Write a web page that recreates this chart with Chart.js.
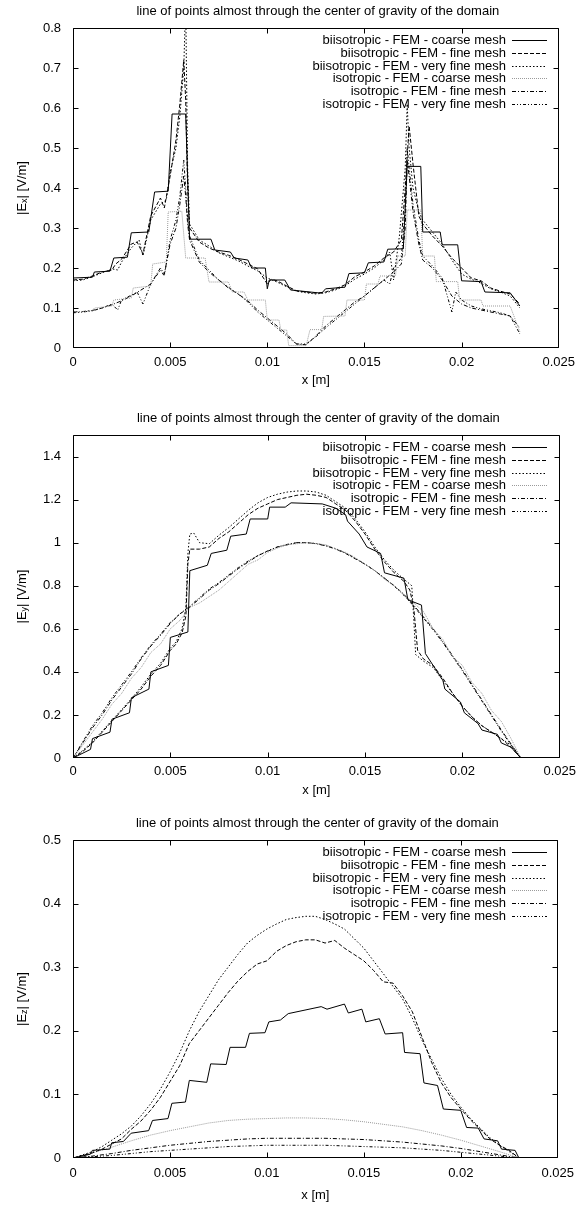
<!DOCTYPE html>
<html><head><meta charset="utf-8">
<script src="https://cdn.jsdelivr.net/npm/chart.js@4.4.1/dist/chart.umd.min.js"></script>
<style>
html,body{margin:0;padding:0;background:#fff;}
body{width:582px;height:1206px;position:relative;overflow:hidden;}
canvas{position:absolute;left:0;}
</style></head><body>
<canvas id="c1" width="582" height="402" style="top:0px;width:582px;height:402px"></canvas>
<canvas id="c2" width="582" height="402" style="top:404px;width:582px;height:402px"></canvas>
<canvas id="c3" width="582" height="400" style="top:806px;width:582px;height:400px"></canvas>
<script>
const LABELS = ['biisotropic - FEM - coarse mesh','biisotropic - FEM - fine mesh','biisotropic - FEM - very fine mesh','isotropic - FEM - coarse mesh','isotropic - FEM - fine mesh','isotropic - FEM - very fine mesh'];
const TITLE = 'line of points almost through the center of gravity of the domain';
const X_TITLE = 'x [m]';
const X_TICKS = [0,0.005,0.01,0.015,0.02,0.025];
const EX_Y_TICKS = [0,0.1,0.2,0.3,0.4,0.5,0.6,0.7,0.8];
const EY_Y_TICKS = [0,0.2,0.4,0.6,0.8,1,1.2,1.4];
const EZ_Y_TICKS = [0,0.1,0.2,0.3,0.4,0.5];

// ---------- |Ex| ----------
const exBiCoarse = [[0,0.175],[0.001,0.177],[0.0011,0.19],[0.0019,0.192],[0.0021,0.225],[0.0028,0.227],[0.003,0.288],[0.0039,0.29],[0.0042,0.39],[0.0049,0.392],[0.0051,0.585],[0.0058,0.585],[0.006,0.272],[0.0071,0.272],[0.0073,0.245],[0.0081,0.24],[0.0083,0.225],[0.009,0.22],[0.0092,0.2],[0.0099,0.2],[0.01,0.148],[0.0101,0.17],[0.0109,0.17],[0.0112,0.145],[0.0128,0.137],[0.013,0.148],[0.014,0.152],[0.0142,0.186],[0.015,0.188],[0.0152,0.213],[0.016,0.215],[0.0162,0.247],[0.017,0.248],[0.0172,0.454],[0.0179,0.454],[0.018,0.29],[0.0189,0.29],[0.019,0.258],[0.0198,0.258],[0.02,0.168],[0.021,0.166],[0.0212,0.14],[0.0225,0.138],[0.023,0.105]];
const exBiFine = [[0,0.17],[0.0005,0.172],[0.001,0.18],[0.0015,0.19],[0.002,0.195],[0.0022,0.21],[0.0025,0.222],[0.003,0.26],[0.0033,0.265],[0.0036,0.235],[0.004,0.33],[0.0045,0.375],[0.0047,0.35],[0.005,0.43],[0.0053,0.52],[0.0055,0.61],[0.0057,0.72],[0.0058,0.62],[0.0059,0.4],[0.006,0.3],[0.0065,0.265],[0.007,0.25],[0.0075,0.24],[0.008,0.232],[0.0085,0.222],[0.009,0.21],[0.0095,0.198],[0.01,0.16],[0.0102,0.172],[0.0105,0.168],[0.011,0.155],[0.0115,0.143],[0.012,0.14],[0.0125,0.137],[0.013,0.14],[0.0135,0.148],[0.014,0.158],[0.0145,0.178],[0.015,0.19],[0.0155,0.205],[0.016,0.225],[0.0165,0.24],[0.0169,0.27],[0.0171,0.4],[0.0173,0.555],[0.0175,0.46],[0.0178,0.33],[0.018,0.31],[0.0185,0.28],[0.019,0.255],[0.0195,0.225],[0.02,0.2],[0.0205,0.175],[0.021,0.168],[0.0215,0.15],[0.022,0.142],[0.0225,0.135],[0.023,0.11]];
const exBiVFine = [[0,0.168],[0.0005,0.17],[0.001,0.178],[0.0015,0.188],[0.002,0.198],[0.0023,0.195],[0.0025,0.215],[0.003,0.25],[0.0034,0.27],[0.0036,0.23],[0.004,0.32],[0.0045,0.36],[0.0048,0.37],[0.005,0.44],[0.0053,0.5],[0.0055,0.58],[0.0057,0.7],[0.0058,0.86],[0.0059,0.45],[0.006,0.31],[0.0065,0.27],[0.007,0.255],[0.0075,0.238],[0.008,0.228],[0.0085,0.218],[0.009,0.205],[0.0095,0.193],[0.01,0.175],[0.0105,0.165],[0.011,0.153],[0.0115,0.142],[0.012,0.138],[0.0125,0.135],[0.013,0.138],[0.0135,0.145],[0.014,0.155],[0.0145,0.172],[0.015,0.185],[0.0155,0.2],[0.016,0.22],[0.0163,0.24],[0.0165,0.17],[0.0168,0.28],[0.0171,0.45],[0.0172,0.61],[0.0173,0.5],[0.0175,0.4],[0.0178,0.34],[0.018,0.32],[0.0185,0.29],[0.019,0.26],[0.0195,0.22],[0.02,0.185],[0.0205,0.172],[0.021,0.162],[0.0215,0.148],[0.022,0.14],[0.0225,0.13],[0.023,0.1]];
const exIsoCoarse = [[0,0.09],[0.001,0.093],[0.0011,0.1],[0.002,0.105],[0.0021,0.12],[0.003,0.125],[0.0031,0.15],[0.004,0.155],[0.0041,0.21],[0.0048,0.215],[0.0049,0.34],[0.0056,0.342],[0.0058,0.225],[0.0068,0.225],[0.007,0.165],[0.008,0.165],[0.0082,0.14],[0.0088,0.14],[0.009,0.12],[0.0099,0.12],[0.01,0.07],[0.0106,0.07],[0.0107,0.045],[0.011,0.045],[0.0111,0.006],[0.012,0.006],[0.0122,0.046],[0.0128,0.046],[0.0129,0.079],[0.014,0.08],[0.0141,0.12],[0.015,0.12],[0.0151,0.16],[0.0157,0.16],[0.0158,0.18],[0.0166,0.18],[0.0167,0.23],[0.0171,0.23],[0.0172,0.345],[0.0179,0.345],[0.018,0.23],[0.0186,0.23],[0.0187,0.166],[0.0198,0.166],[0.0199,0.12],[0.021,0.12],[0.0211,0.105],[0.0225,0.105],[0.023,0.04]];
const exIsoFine = [[0,0.09],[0.0005,0.091],[0.001,0.094],[0.0015,0.1],[0.002,0.108],[0.0025,0.118],[0.003,0.13],[0.0035,0.145],[0.004,0.16],[0.0045,0.2],[0.0047,0.185],[0.005,0.26],[0.0053,0.3],[0.0055,0.36],[0.0057,0.43],[0.0058,0.38],[0.0059,0.31],[0.006,0.27],[0.0065,0.215],[0.007,0.19],[0.0075,0.17],[0.008,0.15],[0.0085,0.135],[0.009,0.118],[0.0095,0.095],[0.01,0.075],[0.0105,0.055],[0.011,0.035],[0.0115,0.01],[0.012,0.008],[0.0125,0.03],[0.013,0.055],[0.0135,0.075],[0.014,0.095],[0.0145,0.115],[0.015,0.13],[0.0155,0.15],[0.016,0.17],[0.0165,0.19],[0.0169,0.21],[0.0171,0.3],[0.0172,0.47],[0.0173,0.43],[0.0175,0.34],[0.0178,0.26],[0.018,0.22],[0.0185,0.2],[0.019,0.17],[0.0195,0.13],[0.02,0.11],[0.0205,0.1],[0.021,0.095],[0.0215,0.09],[0.022,0.085],[0.0225,0.08],[0.023,0.05]];
const exIsoVFine = [[0,0.088],[0.0005,0.09],[0.001,0.093],[0.0015,0.1],[0.002,0.11],[0.0023,0.095],[0.0025,0.12],[0.003,0.132],[0.0033,0.14],[0.0036,0.11],[0.004,0.16],[0.0045,0.195],[0.0047,0.18],[0.005,0.27],[0.0053,0.32],[0.0055,0.38],[0.0057,0.47],[0.0058,0.4],[0.0059,0.32],[0.006,0.28],[0.0065,0.22],[0.007,0.195],[0.0075,0.17],[0.008,0.152],[0.0085,0.135],[0.009,0.115],[0.0095,0.09],[0.01,0.07],[0.0105,0.05],[0.011,0.03],[0.0115,0.01],[0.012,0.01],[0.0125,0.028],[0.013,0.05],[0.0135,0.07],[0.014,0.09],[0.0145,0.11],[0.015,0.13],[0.0155,0.15],[0.016,0.17],[0.0163,0.16],[0.0165,0.2],[0.0169,0.225],[0.0171,0.35],[0.0172,0.5],[0.0173,0.45],[0.0175,0.36],[0.0178,0.27],[0.018,0.23],[0.0185,0.205],[0.019,0.175],[0.0195,0.09],[0.0197,0.14],[0.02,0.12],[0.0205,0.105],[0.021,0.098],[0.0215,0.093],[0.022,0.088],[0.0225,0.08],[0.023,0.035]];

// ---------- |Ey| ----------
const eyBiCoarse = [[0,0],[0.0009,0.04],[0.001,0.09],[0.0019,0.12],[0.002,0.18],[0.0029,0.21],[0.003,0.28],[0.0039,0.32],[0.004,0.4],[0.0049,0.43],[0.005,0.56],[0.0059,0.585],[0.006,0.87],[0.0069,0.895],[0.0071,0.95],[0.0079,0.965],[0.0081,1.03],[0.0089,1.04],[0.0091,1.11],[0.01,1.11],[0.0101,1.165],[0.0109,1.165],[0.0112,1.185],[0.0128,1.18],[0.0135,1.16],[0.014,1.13],[0.0141,1.1],[0.0147,1.04],[0.0151,0.98],[0.0158,0.95],[0.016,0.86],[0.017,0.835],[0.0172,0.735],[0.0179,0.71],[0.0181,0.485],[0.019,0.36],[0.0191,0.32],[0.0199,0.26],[0.0201,0.21],[0.0208,0.16],[0.021,0.13],[0.0218,0.11],[0.022,0.07],[0.0225,0.05],[0.023,0]];
const eyBiFine = [[0,0],[0.0005,0.03],[0.001,0.07],[0.0015,0.12],[0.002,0.17],[0.0025,0.22],[0.003,0.27],[0.0035,0.32],[0.004,0.38],[0.0045,0.43],[0.005,0.5],[0.0053,0.53],[0.0056,0.58],[0.0058,0.66],[0.0059,0.9],[0.006,0.97],[0.0065,0.97],[0.007,0.98],[0.0075,1.02],[0.008,1.05],[0.0085,1.09],[0.009,1.13],[0.0095,1.16],[0.01,1.18],[0.0105,1.2],[0.011,1.21],[0.0115,1.22],[0.012,1.225],[0.0125,1.22],[0.013,1.21],[0.0135,1.18],[0.014,1.15],[0.0145,1.1],[0.015,1.04],[0.0155,0.97],[0.016,0.91],[0.0165,0.86],[0.017,0.82],[0.0173,0.78],[0.0175,0.7],[0.0177,0.5],[0.018,0.46],[0.0185,0.43],[0.019,0.37],[0.0195,0.3],[0.02,0.24],[0.0205,0.19],[0.021,0.15],[0.0215,0.12],[0.022,0.09],[0.0225,0.05],[0.023,0]];
const eyBiVFine = [[0,0],[0.0005,0.035],[0.001,0.075],[0.0015,0.125],[0.002,0.175],[0.0025,0.225],[0.003,0.275],[0.0035,0.33],[0.004,0.39],[0.0045,0.44],[0.005,0.51],[0.0053,0.54],[0.0056,0.6],[0.0058,0.7],[0.0059,0.95],[0.006,1.04],[0.0062,1.045],[0.0065,1.0],[0.007,0.995],[0.0075,1.035],[0.008,1.07],[0.0085,1.11],[0.009,1.15],[0.0095,1.185],[0.01,1.21],[0.0105,1.225],[0.011,1.235],[0.0115,1.24],[0.012,1.24],[0.0125,1.235],[0.013,1.22],[0.0135,1.19],[0.014,1.16],[0.0145,1.11],[0.015,1.05],[0.0155,0.98],[0.016,0.92],[0.0165,0.87],[0.017,0.83],[0.0174,0.8],[0.0175,0.65],[0.0176,0.48],[0.018,0.45],[0.0185,0.42],[0.019,0.36],[0.0195,0.3],[0.02,0.24],[0.0205,0.19],[0.021,0.15],[0.0215,0.12],[0.022,0.09],[0.0225,0.06],[0.023,0]];
const eyIsoCoarse = [[0,0],[0.001,0.12],[0.0015,0.18],[0.002,0.25],[0.0025,0.3],[0.003,0.37],[0.0035,0.42],[0.004,0.49],[0.0045,0.53],[0.005,0.6],[0.0055,0.64],[0.006,0.7],[0.0065,0.72],[0.007,0.75],[0.0075,0.78],[0.008,0.82],[0.0085,0.86],[0.009,0.9],[0.0095,0.92],[0.01,0.955],[0.0105,0.975],[0.011,0.99],[0.0115,0.995],[0.012,1.0],[0.0125,0.995],[0.013,0.99],[0.0135,0.97],[0.014,0.955],[0.0145,0.93],[0.015,0.9],[0.0155,0.87],[0.016,0.83],[0.0165,0.8],[0.017,0.76],[0.0175,0.72],[0.018,0.68],[0.0185,0.6],[0.019,0.55],[0.0195,0.47],[0.02,0.43],[0.0205,0.35],[0.021,0.3],[0.0215,0.22],[0.022,0.17],[0.0225,0.09],[0.023,0]];
const eyIsoFine = [[0,0],[0.0005,0.07],[0.001,0.14],[0.0015,0.2],[0.002,0.27],[0.0025,0.33],[0.003,0.39],[0.0035,0.46],[0.004,0.52],[0.0045,0.57],[0.005,0.625],[0.0055,0.67],[0.006,0.7],[0.0065,0.74],[0.007,0.78],[0.0075,0.81],[0.008,0.845],[0.0085,0.88],[0.009,0.91],[0.0095,0.94],[0.01,0.96],[0.0105,0.98],[0.011,0.99],[0.0115,1.0],[0.012,1.0],[0.0125,0.995],[0.013,0.985],[0.0135,0.97],[0.014,0.95],[0.0145,0.925],[0.015,0.9],[0.0155,0.87],[0.016,0.835],[0.0165,0.8],[0.017,0.76],[0.0175,0.71],[0.018,0.655],[0.0185,0.6],[0.019,0.54],[0.0195,0.475],[0.02,0.41],[0.0205,0.34],[0.021,0.27],[0.0215,0.2],[0.022,0.13],[0.0225,0.065],[0.023,0]];
const eyIsoVFine = [[0,0],[0.0005,0.075],[0.001,0.15],[0.0015,0.21],[0.002,0.28],[0.0025,0.34],[0.003,0.4],[0.0035,0.465],[0.004,0.525],[0.0045,0.575],[0.005,0.63],[0.0055,0.67],[0.006,0.705],[0.0065,0.745],[0.007,0.785],[0.0075,0.815],[0.008,0.85],[0.0085,0.885],[0.009,0.915],[0.0095,0.94],[0.01,0.962],[0.0105,0.98],[0.011,0.992],[0.0115,1.0],[0.012,1.0],[0.0125,0.996],[0.013,0.986],[0.0135,0.972],[0.014,0.952],[0.0145,0.928],[0.015,0.9],[0.0155,0.87],[0.016,0.835],[0.0165,0.798],[0.017,0.755],[0.0175,0.705],[0.018,0.65],[0.0185,0.595],[0.019,0.535],[0.0195,0.47],[0.02,0.405],[0.0205,0.335],[0.021,0.265],[0.0215,0.195],[0.022,0.125],[0.0225,0.06],[0.023,0]];

// ---------- |Ez| ----------
const ezBiCoarse = [[0,0],[0.0009,0.006],[0.001,0.012],[0.0019,0.014],[0.002,0.024],[0.0026,0.026],[0.003,0.039],[0.0039,0.043],[0.0041,0.059],[0.0049,0.062],[0.0051,0.086],[0.0058,0.088],[0.006,0.122],[0.0069,0.119],[0.0071,0.148],[0.0079,0.147],[0.0081,0.174],[0.0089,0.174],[0.0091,0.196],[0.0099,0.197],[0.0101,0.214],[0.0107,0.217],[0.0111,0.227],[0.0128,0.238],[0.0131,0.234],[0.014,0.242],[0.0142,0.228],[0.0149,0.234],[0.0151,0.214],[0.0158,0.219],[0.0161,0.195],[0.017,0.197],[0.0171,0.166],[0.0179,0.164],[0.0181,0.118],[0.0188,0.114],[0.0191,0.077],[0.02,0.075],[0.0203,0.048],[0.0209,0.047],[0.0212,0.03],[0.0219,0.027],[0.0221,0.014],[0.0228,0.012],[0.023,0]];
const ezBiFine = [[0,0],[0.001,0.008],[0.0015,0.014],[0.002,0.022],[0.0025,0.03],[0.003,0.045],[0.0035,0.058],[0.004,0.075],[0.0045,0.095],[0.005,0.12],[0.0055,0.145],[0.006,0.18],[0.0065,0.2],[0.007,0.22],[0.0075,0.24],[0.008,0.26],[0.0085,0.278],[0.009,0.293],[0.0095,0.305],[0.01,0.31],[0.0105,0.325],[0.011,0.334],[0.0115,0.34],[0.012,0.343],[0.0125,0.343],[0.013,0.338],[0.0135,0.342],[0.014,0.33],[0.0145,0.32],[0.015,0.31],[0.0155,0.295],[0.016,0.277],[0.0165,0.275],[0.017,0.255],[0.0175,0.23],[0.018,0.19],[0.0185,0.15],[0.019,0.118],[0.0195,0.095],[0.02,0.077],[0.0205,0.06],[0.021,0.045],[0.0215,0.03],[0.022,0.02],[0.0225,0.012],[0.023,0]];
const ezBiVFine = [[0,0],[0.001,0.01],[0.0015,0.018],[0.002,0.028],[0.0025,0.038],[0.003,0.05],[0.0035,0.066],[0.004,0.085],[0.0045,0.108],[0.005,0.135],[0.0055,0.165],[0.006,0.2],[0.0065,0.23],[0.007,0.255],[0.0075,0.28],[0.008,0.3],[0.0085,0.32],[0.009,0.338],[0.0095,0.35],[0.01,0.36],[0.0105,0.368],[0.011,0.375],[0.0115,0.378],[0.012,0.38],[0.0125,0.38],[0.013,0.375],[0.0135,0.368],[0.014,0.36],[0.0145,0.345],[0.015,0.33],[0.0155,0.31],[0.016,0.29],[0.0165,0.27],[0.017,0.25],[0.0175,0.22],[0.018,0.185],[0.0185,0.155],[0.019,0.125],[0.0195,0.1],[0.02,0.08],[0.0205,0.062],[0.021,0.047],[0.0215,0.032],[0.022,0.02],[0.0225,0.01],[0.023,0]];
const ezIsoCoarse = [[0,0],[0.001,0.008],[0.002,0.017],[0.003,0.027],[0.004,0.036],[0.005,0.043],[0.006,0.049],[0.007,0.055],[0.008,0.059],[0.009,0.061],[0.01,0.062],[0.011,0.063],[0.012,0.063],[0.013,0.062],[0.014,0.06],[0.015,0.057],[0.016,0.053],[0.017,0.049],[0.018,0.043],[0.019,0.036],[0.02,0.028],[0.021,0.019],[0.022,0.01],[0.023,0]];
const ezIsoFine = [[0,0],[0.001,0.003],[0.002,0.007],[0.003,0.012],[0.004,0.016],[0.005,0.02],[0.006,0.023],[0.007,0.026],[0.008,0.028],[0.009,0.03],[0.01,0.031],[0.011,0.031],[0.012,0.031],[0.013,0.031],[0.014,0.03],[0.015,0.029],[0.016,0.027],[0.017,0.025],[0.018,0.022],[0.019,0.019],[0.02,0.015],[0.021,0.01],[0.022,0.005],[0.023,0]];
const ezIsoVFine = [[0,0],[0.001,0.002],[0.002,0.004],[0.003,0.007],[0.004,0.01],[0.005,0.012],[0.006,0.014],[0.007,0.016],[0.008,0.018],[0.009,0.019],[0.01,0.02],[0.011,0.02],[0.012,0.02],[0.013,0.02],[0.014,0.019],[0.015,0.018],[0.016,0.017],[0.017,0.016],[0.018,0.014],[0.019,0.012],[0.02,0.009],[0.021,0.006],[0.022,0.003],[0.023,0]];

const STYLES = [
  {color:'#000000', dash:[]},
  {color:'#000000', dash:[4,2]},
  {color:'#000000', dash:[1.5,2]},
  {color:'#9a9a9a', dash:[1,1]},
  {color:'#000000', dash:[4,2,1,2]},
  {color:'#000000', dash:[3,2,1,2,1,2]}
];
const FONT_FAMILY = '"Liberation Sans", Arial, Helvetica, sans-serif';
const FS = 13;

function fmt(v){ return v === 0 ? '0' : String(+v.toFixed(4)); }

function gnuPlugin(p){
  return {
    id:'gnu',
    beforeDatasetsDraw(chart){
      const ctx = chart.ctx, a = chart.chartArea;
      ctx.save();
      ctx.font = FS + 'px ' + FONT_FAMILY;
      ctx.fillStyle = '#000';
      ctx.textAlign = 'right';
      ctx.textBaseline = 'middle';
      chart.data.datasets.forEach((ds, i) => {
        const y = Math.round(a.top + 12 + i * 12.8) + 0.5;
        ctx.fillText(ds.label, 506, y);
        ctx.beginPath();
        ctx.setLineDash(ds.borderDash || []);
        ctx.strokeStyle = ds.borderColor;
        ctx.lineWidth = 1;
        ctx.moveTo(512, y); ctx.lineTo(547, y);
        ctx.stroke();
      });
      ctx.restore();
    },
    afterDatasetsDraw(chart){
      const ctx = chart.ctx, a = chart.chartArea;
      const xs = chart.scales.x, ys = chart.scales.y;
      const L = Math.round(a.left) + 0.5, R = Math.round(a.right) - 0.5;
      const T = Math.round(a.top) + 0.5, B = Math.round(a.bottom) - 0.5;
      ctx.save();
      ctx.setLineDash([]);
      ctx.strokeStyle = '#000';
      ctx.lineWidth = 1;
      ctx.beginPath();
      ctx.rect(L, T, R - L, B - T);
      ctx.stroke();
      const tl = 5;
      ctx.beginPath();
      xs.ticks.forEach(t => {
        const px = Math.min(R, Math.max(L, Math.round(xs.getPixelForValue(t.value)) + 0.5));
        ctx.moveTo(px, B); ctx.lineTo(px, B - tl);
        ctx.moveTo(px, T); ctx.lineTo(px, T + tl);
      });
      ys.ticks.forEach(t => {
        const py = Math.min(B, Math.max(T, Math.round(ys.getPixelForValue(t.value)) + 0.5));
        ctx.moveTo(L, py); ctx.lineTo(L + tl, py);
        ctx.moveTo(R, py); ctx.lineTo(R - tl, py);
      });
      ctx.stroke();
      ctx.restore();
    },
    afterDraw(chart){
      const ctx = chart.ctx, a = chart.chartArea;
      ctx.save();
      ctx.fillStyle = '#000';
      ctx.font = FS + 'px ' + FONT_FAMILY;
      ctx.textAlign = 'center';
      ctx.textBaseline = 'middle';
      ctx.fillText(TITLE, (a.left + a.right) / 2 + 2, a.top - 17);
      const cy = (a.top + a.bottom) / 2;
      ctx.translate(22, cy);
      ctx.rotate(-Math.PI / 2);
      const fMain = FS + 'px ' + FONT_FAMILY, fSub = '9px ' + FONT_FAMILY;
      const parts = [['|E', fMain, 0], [p.sub, fSub, 3], ['| [V/m]', fMain, 0]];
      let w = 0;
      parts.forEach(pt => { ctx.font = pt[1]; w += ctx.measureText(pt[0]).width; });
      let x = -w / 2;
      ctx.textAlign = 'left';
      parts.forEach(pt => { ctx.font = pt[1]; ctx.fillText(pt[0], x, pt[2]); x += ctx.measureText(pt[0]).width; });
      ctx.restore();
    }
  };
}

function makeChart(id, p){
  const cv = document.getElementById(id);
  const H = cv.height;
  const lh = FS * 1.2;
  return new Chart(cv, {
    type:'line',
    data:{ datasets: p.series.map((s, i) => ({
      label: LABELS[i],
      data: s.map(d => ({x:d[0], y:d[1]})),
      borderColor: STYLES[i].color,
      borderDash: STYLES[i].dash,
      borderWidth: 1,
      pointRadius: 0,
      fill: false,
      tension: 0
    }))},
    options:{
      responsive:false, animation:false, devicePixelRatio:1,
      layout:{padding:{top:p.top, right:19, left:0, bottom:0}},
      plugins:{legend:{display:false}, tooltip:{enabled:false}, title:{display:false}},
      scales:{
        x:{
          type:'linear', min:0, max:0.025,
          grid:{display:false, drawTicks:false}, border:{display:false},
          afterBuildTicks: s => { s.ticks = X_TICKS.map(v => ({value:v})); },
          afterFit: s => { s.height = H - p.bottom; },
          ticks:{callback: v => fmt(v), color:'#000', padding:p.tpad, maxRotation:0, autoSkip:false,
                 font:{family:FONT_FAMILY, size:FS}},
          title:{display:true, text:X_TITLE, color:'#000', font:{family:FONT_FAMILY, size:FS},
                 padding:{top:0, bottom: H - p.bottom - p.xt - lh / 2}}
        },
        y:{
          type:'linear', min:0, max:p.ymax,
          grid:{display:false, drawTicks:false}, border:{display:false},
          afterBuildTicks: s => { s.ticks = p.yticks.map(v => ({value:v})); },
          afterFit: s => { s.width = 73; },
          ticks:{callback: v => fmt(v), color:'#000', padding:12, autoSkip:false,
                 font:{family:FONT_FAMILY, size:FS}}
        }
      }
    },
    plugins:[gnuPlugin(p)]
  });
}

makeChart('c1', {top:28, bottom:348, ymax:0.8, yticks:EX_Y_TICKS, sub:'x', xt:32, tpad:7,
  series:[exBiCoarse, exBiFine, exBiVFine, exIsoCoarse, exIsoFine, exIsoVFine]});
makeChart('c2', {top:31, bottom:354, ymax:1.5, yticks:EY_Y_TICKS, sub:'y', xt:32, tpad:6,
  series:[eyBiCoarse, eyBiFine, eyBiVFine, eyIsoCoarse, eyIsoFine, eyIsoVFine]});
makeChart('c3', {top:34, bottom:352, ymax:0.5, yticks:EZ_Y_TICKS, sub:'z', xt:37, tpad:8,
  series:[ezBiCoarse, ezBiFine, ezBiVFine, ezIsoCoarse, ezIsoFine, ezIsoVFine]});
</script>
</body></html>
